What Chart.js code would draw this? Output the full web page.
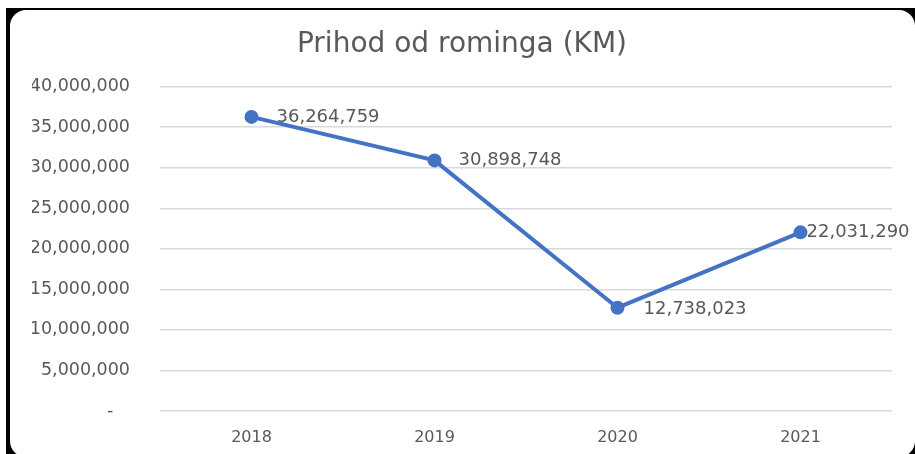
<!DOCTYPE html>
<html>
<head>
<meta charset="utf-8">
<script src="https://cdn.jsdelivr.net/npm/chart.js@4"></script>
<style>
  html, body { margin: 0; padding: 0; background: #fff; overflow: hidden; }
  #frame { position: absolute; left: 6px; top: 8px; width: 909px; height: 446px; background: #000; overflow: hidden; }
  #inner { position: absolute; left: 4px; top: 2px; width: 905px; height: 447px; background: #fff; border-radius: 16px; }
  #wrap { position: absolute; left: 0; top: 0; width: 915px; height: 454px; }
</style>
</head>
<body>
<div id="frame"><div id="inner"></div></div>
<div id="wrap"><canvas id="chart" width="915" height="454"></canvas></div>
<script>
// podaci
var years = ["2018", "2019", "2020", "2021"];
var revenue = [36264759, 30898748, 12738023, 22031290];
var yTicks = [0, 5000000, 10000000, 15000000, 20000000, 25000000, 30000000, 35000000, 40000000];

var textColor = "#595959";
var fontFamily = "'DejaVu Sans', sans-serif";

// oznake vrijednosti desno od tacaka
var pointLabels = {
    id: "pointLabels",
    afterDatasetsDraw: function (chart, args, opts) {
        var ctx = chart.ctx;
        var meta = chart.getDatasetMeta(0);
        ctx.save();
        ctx.font = "18px " + fontFamily;
        ctx.fillStyle = textColor;
        ctx.textAlign = "left";
        ctx.textBaseline = "middle";
        meta.data.forEach(function (pt, i) {
            var val = chart.data.datasets[0].data[i];
            ctx.fillText(val.toLocaleString("en-US"), pt.x + opts.dx[i], pt.y + opts.dy[i]);
        });
        ctx.restore();
    }
};

var config = {
    type: "line",
    data: {
        labels: years,
        datasets: [{
            label: "Prihod od rominga (KM)",
            data: revenue,
            borderColor: "#4472C4",
            backgroundColor: "#4472C4",
            borderWidth: 4,
            pointRadius: 5,
            pointHoverRadius: 5,
            tension: 0
        }]
    },
    options: {
        responsive: false,
        animation: false,
        layout: { padding: { top: 10, left: 32, right: 23, bottom: 3 } },
        plugins: {
            legend: { display: false },
            tooltip: { enabled: false },
            title: {
                display: true,
                text: "Prihod od rominga (KM)",
                color: textColor,
                font: { family: fontFamily, size: 28, weight: "normal" },
                padding: { top: 18, bottom: 25 }
            },
            pointLabels: { dx: [25, 24, 26, 6], dy: [0, 0, 2, 0] }
        },
        scales: {
            x: {
                offset: true,
                grid: { display: false },
                border: { display: false },
                ticks: { color: textColor, font: { family: fontFamily, size: 16 }, padding: 9 },
                afterFit: function (axis) { axis.height = 40; }
            },
            y: {
                min: 0,
                max: 40000000,
                afterBuildTicks: function (axis) {
                    axis.ticks = yTicks.map(function (v) { return { value: v }; });
                },
                grid: { color: "#d9d9d9", lineWidth: 1.5, drawTicks: false },
                border: { display: false },
                ticks: {
                    color: textColor,
                    font: { family: fontFamily, size: 17.5 },
                    padding: 30,
                    callback: function (v) { return v === 0 ? "-   " : v.toLocaleString("en-US"); }
                },
                afterFit: function (axis) { axis.width = 128; }
            }
        }
    },
    plugins: [pointLabels]
};

var chart = new Chart(document.getElementById("chart"), config);
</script>
</body>
</html>
